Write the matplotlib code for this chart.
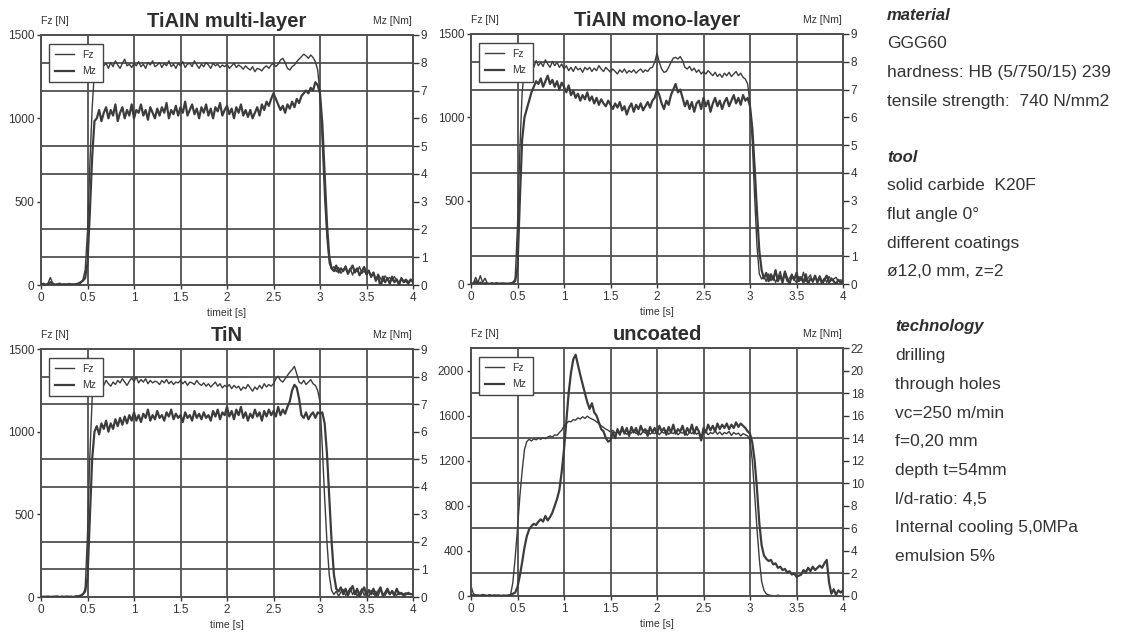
import numpy as np
import matplotlib
matplotlib.use("Agg")
import matplotlib.pyplot as plt

plt.rcParams['font.family'] = ['Liberation Sans', 'DejaVu Sans']

# ---------------- data ----------------
time_s = np.linspace(0.0, 4.0, 161)   # sampling grid, 0.025 s

titles = ["TiAIN multi-layer", "TiAIN mono-layer", "TiN", "uncoated"]
xlabels = ["timeit [s]", "time [s]", "time [s]", "time [s]"]
xtick_vals = [0, 0.5, 1, 1.5, 2, 2.5, 3, 3.5, 4]
xtick_labels = ["0", "0.5", "1", "1.5", "2", "2.5", "3", "3.5", "4"]
fz_ticks_coated = [0, 500, 1000, 1500]
mz_ticks_coated = [0, 1, 2, 3, 4, 5, 6, 7, 8, 9]
fz_ticks_uncoated = [0, 400, 800, 1200, 1600, 2000]
mz_ticks_uncoated = [0, 2, 4, 6, 8, 10, 12, 14, 16, 18, 20, 22]
fz_limits = [1500, 1500, 1500, 2200]
mz_limits = [9, 9, 9, 22]

fz_multi = [
    5, 8, 3, 10, 45, 12, 4, 6, 3, 5,
    4, 6, 3, 5, 7, 4, 6, 10, 30, 90,
    320, 720, 1060, 1290, 1325, 1310, 1340, 1315, 1330, 1300,
    1335, 1310, 1345, 1320, 1300, 1330, 1355, 1315, 1325, 1305,
    1330, 1315, 1340, 1310, 1325, 1300, 1335, 1320, 1345, 1310,
    1320, 1335, 1305, 1330, 1315, 1345, 1310, 1325, 1300, 1330,
    1315, 1340, 1305, 1325, 1330, 1310, 1345, 1320, 1300, 1325,
    1310, 1335, 1320, 1300, 1330, 1315, 1325, 1305, 1320, 1310,
    1325, 1300, 1315, 1330, 1305, 1320, 1310, 1295, 1315, 1300,
    1290, 1310, 1280, 1300, 1295, 1285, 1305, 1315, 1300, 1320,
    1330, 1310, 1325, 1350, 1360, 1335, 1300, 1290, 1310, 1320,
    1340, 1355, 1370, 1385, 1375, 1360, 1380, 1365, 1340, 1290,
    1150, 850, 520, 280, 130, 95, 110, 80, 105, 70,
    90, 115, 75, 100, 60, 95, 80, 110, 70, 85,
    60, 90, 45, 75, 30, 65, 40, 20, 55, 35,
    45, 25, 50, 30, 15, 40, 25, 35, 20, 30,
    20]
mz_multi = [
    0.02, 0.05, 0.0, 0.03, 0.1, 0.04, 0.0, 0.02, 0.05, 0.01,
    0.03, 0.0, 0.04, 0.02, 0.0, 0.03, 0.05, 0.1, 0.15, 0.25,
    0.8, 2.6, 4.6, 5.9, 6.0, 6.3, 5.9, 6.2, 6.4, 6.0,
    6.3, 6.1, 6.5, 5.9, 6.2, 6.4, 6.0, 6.3, 6.1, 6.5,
    6.0, 6.3, 6.2, 6.5, 6.1, 6.3, 5.95, 6.4, 6.2, 6.0,
    6.35, 6.1, 6.4, 6.2, 6.55, 6.0, 6.3, 6.15, 6.45, 6.1,
    6.4, 6.2, 6.6, 6.1, 6.3, 6.5, 6.15, 6.35, 6.0, 6.4,
    6.2, 6.5, 6.1, 6.35, 6.0, 6.4, 6.25, 6.55, 6.1, 6.3,
    6.45, 6.15, 6.35, 6.0, 6.4, 6.2, 6.5, 6.1, 6.3, 6.05,
    6.3, 6.0, 6.2, 6.4, 6.1, 6.5, 6.3, 6.6, 6.45, 6.7,
    6.9, 6.7, 6.5, 6.3, 6.45, 6.2, 6.5, 6.35, 6.6, 6.4,
    6.7, 6.55, 6.8, 6.9, 7.0, 6.9, 7.1, 7.0, 7.3, 7.2,
    6.9, 5.8, 4.0, 2.2, 1.0, 0.6, 0.5, 0.7, 0.45, 0.6,
    0.5, 0.65, 0.4, 0.55, 0.7, 0.45, 0.6, 0.35, 0.5, 0.65,
    0.4, 0.5, 0.3, 0.45, 0.15, 0.35, -0.1, 0.3, 0.1, 0.25,
    0.05, 0.3, 0.1, 0.2, 0.0, 0.25, 0.1, 0.15, 0.05, 0.2,
    0.1]

fz_mono = [
    5, 3, 40, 8, 50, 10, 35, 5, 3, 6,
    4, 5, 3, 6, 4, 5, 3, 5, 8, 30,
    350, 800, 1150, 1290, 1310, 1280, 1320, 1300, 1340, 1310,
    1330, 1305, 1345, 1320, 1300, 1335, 1310, 1330, 1300, 1320,
    1290, 1310, 1280, 1300, 1275, 1305, 1285, 1295, 1270, 1300,
    1285, 1300, 1275, 1295, 1280, 1310, 1290, 1275, 1300, 1285,
    1270, 1290, 1275, 1260, 1285, 1270, 1290, 1265, 1280, 1270,
    1285, 1265, 1280, 1290, 1270, 1285, 1275, 1295, 1300, 1330,
    1385, 1330, 1290, 1270, 1275, 1300, 1330, 1355, 1360, 1350,
    1365, 1340, 1300, 1290, 1305, 1280, 1295, 1270, 1285, 1260,
    1275, 1260, 1280, 1265, 1250, 1270, 1245, 1260, 1240, 1265,
    1250, 1270, 1245, 1260, 1275, 1250, 1265, 1240, 1230, 1200,
    1080, 850, 520, 230, 60, 30, 45, 15, 60, 20,
    50, 10, 40, 75, 20, 55, 15, 35, 60, 25,
    10, 45, 20, 70, 15, 35, 55, 10, 40, 20,
    50, 15, 35, 10, 45, 20, 30, 40, 15, 25,
    20]
mz_mono = [
    0.0, 0.02, 0.1, 0.0, 0.05, 0.0, 0.03, 0.01, 0.0, 0.02,
    0.0, 0.03, 0.01, 0.0, 0.02, 0.0, 0.01, 0.02, 0.05, 0.1,
    0.6, 3.0, 5.2, 6.0, 6.3, 6.6, 6.9, 7.1, 7.3, 7.2,
    7.4, 7.1, 7.3, 7.5, 7.2, 7.35, 7.1, 7.3, 7.0, 7.25,
    7.1, 6.9, 7.15, 6.8, 6.95, 6.7, 6.85, 6.6, 6.8, 6.65,
    6.9, 6.6, 6.75, 6.5, 6.7, 6.45, 6.65, 6.5, 6.4, 6.6,
    6.45, 6.3, 6.5, 6.35, 6.55, 6.25, 6.4, 6.1, 6.35, 6.5,
    6.2, 6.45, 6.3, 6.5, 6.25, 6.4, 6.55, 6.35, 6.6, 6.7,
    7.0, 6.8, 6.5, 6.3, 6.6, 6.45, 6.8, 7.0, 7.2, 6.9,
    7.0, 6.7, 6.4, 6.6, 6.3, 6.55, 6.2, 6.5, 6.6, 6.3,
    6.7, 6.4, 6.6, 6.2, 6.5, 6.7, 6.4, 6.6, 6.3, 6.55,
    6.7, 6.4, 6.6, 6.8, 6.5, 6.7, 6.45, 6.8, 6.6, 6.7,
    6.4, 5.6, 4.2, 2.6, 1.2, 0.5, 0.2, 0.4, 0.1, 0.35,
    0.15, 0.5, 0.1, 0.3, 0.05, 0.45, 0.2, 0.0, 0.3, 0.15,
    0.4, 0.1, 0.25, 0.05, 0.35, 0.0, 0.2, 0.1, 0.3, 0.05,
    0.25, 0.0, 0.15, 0.3, 0.05, 0.2, 0.1, 0.0, 0.15, 0.05,
    0.1]

fz_tin = [
    3, 2, 4, 1, 3, 2, 5, 3, 2, 4,
    3, 2, 4, 3, 2, 5, 3, 8, 15, 50,
    380, 850, 1200, 1290, 1300, 1270, 1295, 1280, 1310, 1290,
    1275, 1300, 1285, 1310, 1295, 1320, 1300, 1280, 1305, 1325,
    1305, 1330, 1295, 1315, 1300, 1320, 1290, 1310, 1295, 1305,
    1300, 1285, 1310, 1295, 1315, 1290, 1305, 1285, 1300, 1295,
    1310, 1290, 1305, 1280, 1300, 1295, 1285, 1310, 1290, 1280,
    1295, 1275, 1290, 1270, 1285, 1300, 1275, 1290, 1265, 1280,
    1270, 1285, 1260, 1280, 1265, 1275, 1250, 1270, 1260, 1285,
    1265, 1245, 1270, 1255, 1280, 1260, 1290, 1270, 1285, 1275,
    1290, 1320, 1335, 1310, 1300, 1320, 1340, 1360, 1375, 1395,
    1350, 1300, 1290, 1310, 1285, 1300, 1315, 1290, 1280, 1250,
    1180, 900, 600, 330, 130, 40, 15, 35, 5, 30,
    45, 10, 30, 55, 15, 40, 5, 25, 50, 10,
    30, 0, 40, 15, 35, 5, 45, 20, 10, 35,
    15, 40, 20, 10, 30, 15, 20, 25, 15, 20,
    20]
mz_tin = [
    0.0, 0.01, 0.0, 0.02, 0.0, 0.01, 0.0, 0.02, 0.0, 0.01,
    0.0, 0.02, 0.0, 0.01, 0.0, 0.02, 0.03, 0.05, 0.1, 0.2,
    0.7, 2.8, 5.0, 6.0, 6.2, 5.9, 6.3, 6.1, 6.4, 6.0,
    6.3, 6.1, 6.45, 6.2, 6.5, 6.25, 6.55, 6.3, 6.6, 6.4,
    6.7, 6.4, 6.6, 6.35, 6.65, 6.5, 6.8, 6.4, 6.6, 6.45,
    6.75, 6.5, 6.6, 6.4, 6.7, 6.55, 6.8, 6.45, 6.65, 6.5,
    6.6, 6.35, 6.7, 6.5, 6.6, 6.4, 6.75, 6.5, 6.65, 6.45,
    6.7, 6.5, 6.6, 6.4, 6.75, 6.55, 6.8, 6.45, 6.7, 6.6,
    6.9, 6.55, 6.75, 6.45, 6.8, 6.6, 6.9, 6.5, 6.7, 6.4,
    6.65, 6.5, 6.8, 6.55, 6.7, 6.4, 6.75, 6.55, 6.8, 6.6,
    6.75, 6.55, 6.9, 6.6, 6.8, 6.65, 6.9, 7.1, 7.5, 7.7,
    7.6, 7.2, 6.6, 6.5, 6.7, 6.45, 6.6, 6.7, 6.5, 6.7,
    6.65, 6.7, 6.3, 5.2, 3.6, 2.0, 0.8, 0.3, 0.2, 0.35,
    0.1, 0.3, 0.05, 0.25, 0.4, 0.1, 0.3, 0.0, 0.2, 0.35,
    0.05, 0.25, 0.1, 0.3, 0.0, 0.2, 0.35, 0.05, 0.15, 0.3,
    0.1, 0.2, 0.05, 0.3, 0.1, 0.15, 0.05, 0.1, 0.15, 0.1,
    0.1]

fz_uncoated = [
    90, 20, 10, 8, 5, 10, 6, 4, 12, 5,
    6, 8, 4, 5, 3, 6, 4, 8, 120, 340,
    600, 880, 1110, 1300, 1370, 1390, 1375, 1395, 1385, 1400,
    1390, 1405, 1395, 1410, 1420, 1410, 1430, 1425, 1450, 1470,
    1510, 1530, 1550, 1545, 1565, 1560, 1580, 1570, 1590, 1575,
    1595, 1580, 1570, 1560, 1545, 1530, 1510, 1495, 1480, 1470,
    1455, 1470, 1445, 1460, 1440, 1465, 1450, 1435, 1460, 1445,
    1470, 1440, 1455, 1430, 1460, 1445, 1470, 1435, 1450, 1440,
    1460, 1430, 1455, 1445, 1470, 1435, 1450, 1440, 1465, 1430,
    1450, 1445, 1460, 1425, 1455, 1440, 1465, 1435, 1450, 1420,
    1445, 1460, 1430, 1450, 1440, 1465, 1435, 1455, 1430, 1450,
    1440, 1460, 1425, 1450, 1435, 1445, 1420, 1440, 1430, 1420,
    1380, 1200, 900, 600, 330, 130, 50, 20, 10, 5,
    3, 0, 8, 0, 1, 0, 0, 0, 0, 0,
    0, 0, 0, 0, 0, 0, 0, 0, 0, 0,
    0, 0, 0, 0, 0, 0, 0, 0, 0, 0,
    0]
mz_uncoated = [
    0.1, 0.05, 0.0, 0.05, 0.0, 0.1, 0.05, 0.0, 0.05, 0.0,
    0.05, 0.0, 0.05, 0.0, 0.05, 0.0, 0.05, 0.1, 0.2, 0.3,
    0.8, 1.8, 3.0, 4.3, 5.3, 5.9, 6.2, 6.4, 6.3, 6.6,
    6.8, 6.6, 7.1, 6.7, 7.0, 7.4, 8.0, 8.6, 9.4, 11.0,
    13.0, 15.5, 18.0, 19.8, 21.0, 21.4, 20.5, 19.6, 18.8, 18.0,
    17.2, 16.6, 17.1, 16.3, 16.0, 15.4, 14.8, 14.6, 14.0, 13.7,
    13.8, 14.5, 14.0, 14.8, 14.3, 15.0, 14.4, 14.9, 14.2, 15.0,
    14.5, 14.9, 14.3, 15.1, 14.6, 14.8, 14.2, 15.0, 14.5, 14.9,
    14.4, 15.1, 14.6, 14.9, 14.3, 15.0, 14.5, 15.2, 14.4, 14.8,
    14.6, 15.1, 14.3, 14.9, 14.5, 15.2, 14.4, 15.0, 14.6, 13.8,
    14.9, 14.5, 15.2, 14.7, 15.1, 14.6, 15.3, 14.8, 15.2, 14.9,
    15.3, 14.8, 15.2, 14.9, 15.4, 15.0, 15.3, 15.1, 14.9, 14.6,
    14.4, 13.6, 12.0, 9.5, 6.5, 4.5, 3.6, 3.3, 3.1, 3.2,
    2.8, 2.9, 2.5, 2.6, 2.3, 2.4, 2.1, 2.2, 1.9, 2.0,
    1.7, 1.8, 1.9, 2.3, 2.1, 2.5, 2.2, 2.6, 2.3, 2.5,
    2.7, 2.5, 2.9, 3.2, 1.2, 0.2, 0.6, 0.1, 0.5, 0.3,
    0.5]

fz_series = [fz_multi, fz_mono, fz_tin, fz_uncoated]
mz_series = [mz_multi, mz_mono, mz_tin, mz_uncoated]
fz_ticks_all = [fz_ticks_coated, fz_ticks_coated, fz_ticks_coated, fz_ticks_uncoated]
mz_ticks_all = [mz_ticks_coated, mz_ticks_coated, mz_ticks_coated, mz_ticks_uncoated]

info_blocks = [
    ("material", ["GGG60", "hardness: HB (5/750/15) 239", "tensile strength:  740 N/mm2"]),
    ("tool", ["solid carbide  K20F", "flut angle 0°", "different coatings", "ø12,0 mm, z=2"]),
    ("technology", ["drilling", "through holes", "vc=250 m/min", "f=0,20 mm",
                    "depth t=54mm", "l/d-ratio: 4,5", "Internal cooling 5,0MPa", "emulsion 5%"]),
]

# ---------------- layout / style ----------------
W, H = 1126, 635
fig = plt.figure(figsize=(W / 100, H / 100), dpi=100)
fig.patch.set_facecolor("white")

ink = "#3c3c3c"
grid_c = "#505050"
txt_c = "#333333"

boxes_px = [(41, 35, 413, 285), (471, 34, 843, 284), (41, 349, 413, 597), (471, 348, 843, 596)]

for k in range(4):
    x0, y0, x1, y1 = boxes_px[k]
    rect = [x0 / W, 1 - y1 / H, (x1 - x0) / W, (y1 - y0) / H]
    ax = fig.add_axes(rect)
    ax2 = ax.twinx()
    fzmax, mzmax = fz_limits[k], mz_limits[k]
    ax.set_xlim(0, 4)
    ax.set_ylim(0, fzmax)
    ax2.set_ylim(0, mzmax)

    l1, = ax.plot(time_s, fz_series[k], color=ink, lw=1.0, label="Fz", zorder=3)
    l2, = ax2.plot(time_s, mz_series[k], color=ink, lw=1.6, label="Mz", zorder=3)

    ax.set_xticks(xtick_vals)
    ax.set_xticklabels(xtick_labels)
    ax.set_yticks(fz_ticks_all[k])
    ax.set_yticks([m * fzmax / mzmax for m in mz_ticks_all[k]], minor=True)
    ax2.set_yticks(mz_ticks_all[k])
    ax.grid(True, axis="x", which="major", color=grid_c, lw=1.3)
    ax.grid(True, axis="y", which="minor", color=grid_c, lw=1.3)
    ax.set_axisbelow(True)

    ax.tick_params(axis="both", which="major", labelsize=8.5, colors=txt_c, length=3, width=1, pad=2)
    ax.tick_params(axis="y", which="minor", length=0)
    ax2.tick_params(axis="y", labelsize=8.5, colors=txt_c, length=4, width=1, pad=1.5)
    for a in (ax, ax2):
        for s in a.spines.values():
            s.set_color(grid_c)
            s.set_linewidth(1.3)

    ax.set_xlabel(xlabels[k], fontsize=7.5, color=txt_c, labelpad=3)
    ax.set_title(titles[k], fontsize=14.5, fontweight="bold", color="#2e2e2e", pad=6)
    ax.text(0.038, 1.055, "Fz [N]", transform=ax.transAxes, ha="center", va="center",
            fontsize=7.5, color=txt_c)
    ax.text(0.945, 1.055, "Mz [Nm]", transform=ax.transAxes, ha="center", va="center",
            fontsize=7.5, color=txt_c)

    leg = ax2.legend(handles=[l1, l2], loc="upper left", bbox_to_anchor=(0.022, 0.965),
                     fontsize=7.5, frameon=True, fancybox=False, framealpha=1,
                     edgecolor="#444444", handlelength=1.8, handletextpad=0.8,
                     borderpad=0.6, labelspacing=0.6, borderaxespad=0)
    leg.get_frame().set_linewidth(1.0)
    for t in leg.get_texts():
        t.set_color(txt_c)

# info text on the right
y_px = [15, 157, 327]
x_px = [887, 887, 895]
step = 28.7
for (head, lines), yy, xx in zip(info_blocks, y_px, x_px):
    fig.text(xx / W, 1 - yy / H, head, fontsize=12, fontstyle="italic", fontweight="bold",
             color="#2e2e2e", ha="left", va="center")
    for j, line in enumerate(lines):
        fig.text(xx / W, 1 - (yy + step * (j + 1)) / H, line, fontsize=12.5, color="#333333",
                 ha="left", va="center")

fig.savefig("out.png", dpi=100, facecolor=fig.get_facecolor())
